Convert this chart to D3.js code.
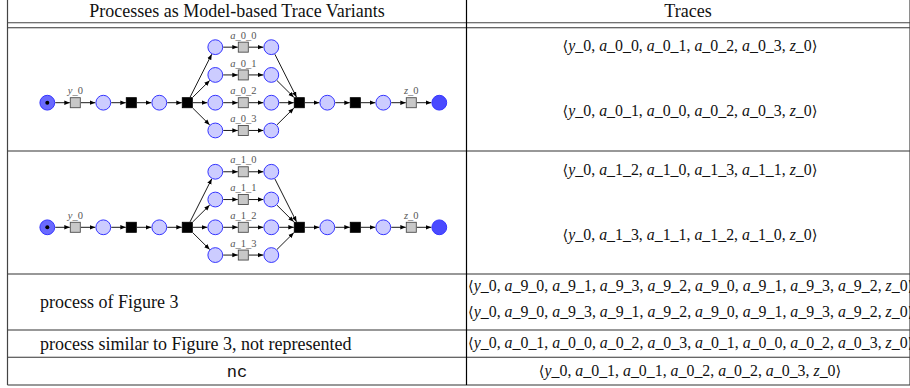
<!DOCTYPE html>
<html><head><meta charset="utf-8">
<script src="https://cdn.jsdelivr.net/npm/d3@7"></script>
<style>body{margin:0;background:#fff}svg{display:block}</style>
</head><body><svg id="c" width="910" height="388"></svg>
<script>
// ---------- data ----------
const headers = ["Processes as Model-based Trace Variants", "Traces"];
const rowKinds = ["net", "net", "text", "text", "code"];
const rowLabels = [null, null, "process of Figure 3", "process similar to Figure 3, not represented", "nc"];
const branchLabels = [["a_0_0", "a_0_1", "a_0_2", "a_0_3"], ["a_1_0", "a_1_1", "a_1_2", "a_1_3"]];
const startLabel = "y_0", endLabel = "z_0";
const traces = [
  [["y_0","a_0_0","a_0_1","a_0_2","a_0_3","z_0"], ["y_0","a_0_1","a_0_0","a_0_2","a_0_3","z_0"]],
  [["y_0","a_1_2","a_1_0","a_1_3","a_1_1","z_0"], ["y_0","a_1_3","a_1_1","a_1_2","a_1_0","z_0"]],
  [["y_0","a_9_0","a_9_1","a_9_3","a_9_2","a_9_0","a_9_1","a_9_3","a_9_2","z_0"],
   ["y_0","a_9_0","a_9_3","a_9_1","a_9_2","a_9_0","a_9_1","a_9_3","a_9_2","z_0"]],
  [["y_0","a_0_1","a_0_0","a_0_2","a_0_3","a_0_1","a_0_0","a_0_2","a_0_3","z_0"]],
  [["y_0","a_0_1","a_0_1","a_0_2","a_0_2","a_0_3","z_0"]]
];
const traceAlign = ["middle", "middle", "start", "start", "middle"];

// ---------- layout ----------
const SERIF = '"Liberation Serif", "Times New Roman", serif';
const MONO = '"Liberation Mono", "DejaVu Sans Mono", monospace';
const ANG = '"DejaVu Serif", "DejaVu Sans", serif';
const svg = d3.select("#c");
const xL = 7.5, xMid = 466.5, xR = 910;
const rowY = d3.scaleOrdinal().domain(d3.range(6)).range([27.7, 151, 274, 330, 357.3, 385]);
const traceY = [[45, 110], [169, 234], [285.5, 311.5], [342.5], [370.5]];
const clamp = (v, a, b) => Math.max(a, Math.min(b, v));

// math token rendering
function mathTokens(sel, tok) {
  sel.append("tspan").style("font-style", "italic").text(tok[0]);
  sel.append("tspan").text(tok.slice(1));
}
function traceText(g, x, y, anchor, toks, fs) {
  const t = g.append("text").style("font-family", SERIF).attr("x", x).attr("y", y).attr("dy", "0.35em").attr("text-anchor", anchor)
    .attr("font-size", fs).attr("fill", "#111");
  t.append("tspan").style("font-family", ANG).attr("font-size", fs * 0.92).text("\u27E8");
  toks.forEach((tk, i) => {
    mathTokens(t, tk);
    if (i < toks.length - 1) t.append("tspan").text(", ");
  });
  t.append("tspan").style("font-family", ANG).attr("font-size", fs * 0.92).text("\u27E9");
  return t;
}

// fit font sizes to reference text widths
function fit(make, target, lo, hi) {
  const n = make(15);
  const w = n.node().getComputedTextLength();
  n.remove();
  return clamp(15 * target / w, lo, hi);
}
const FS_HEAD = fit(s => svg.append("text").style("font-family", SERIF).attr("font-size", s).text(headers[0]), 308, 13, 18);
const FS_BODY = fit(s => svg.append("text").style("font-family", SERIF).attr("font-size", s).text(rowLabels[3]), 327, 13, 18);
const FS_TRACE = fit(s => traceText(svg, 0, -50, "start", traces[0][0], s), 255, 12, 17);

const defs = svg.append("defs");
defs.append("marker").attr("id", "arr").attr("markerUnits", "userSpaceOnUse")
  .attr("viewBox", "0 -3 6 6").attr("refX", 5.5).attr("refY", 0)
  .attr("markerWidth", 6).attr("markerHeight", 6).attr("orient", "auto")
  .append("path").attr("d", "M0,-2.2L5.5,0L0,2.2Z").attr("fill", "#000");

// ---------- table rules ----------
const rules = svg.append("g");
const hl = (y, c, w) => rules.append("line").attr("x1", xL).attr("x2", xR).attr("y1", y).attr("y2", y)
  .attr("stroke", c).attr("stroke-width", w);
hl(-0.5, "#333", 1.2);
hl(22.7, "#444", 1.1);
d3.range(6).forEach(i => hl(rowY(i), "#333", 1.1));
[xL, xMid, xR].forEach(x => rules.append("line").attr("x1", x).attr("x2", x).attr("y1", -1).attr("y2", rowY(5))
  .attr("stroke", x === xMid ? "#000" : "#444").attr("stroke-width", 1.2));

// headers
svg.append("text").style("font-family", SERIF).attr("x", (xL + xMid) / 2).attr("y", 10.5).attr("dy", "0.35em").attr("text-anchor", "middle")
  .attr("font-size", FS_HEAD).attr("fill", "#111").text(headers[0]);
svg.append("text").style("font-family", SERIF).attr("x", 688).attr("y", 10.5).attr("dy", "0.35em").attr("text-anchor", "middle")
  .attr("font-size", FS_HEAD).attr("fill", "#111").text(headers[1]);

// traces
const tg = svg.append("g");
traces.forEach((lines, r) => {
  lines.forEach((toks, j) => {
    const anchor = traceAlign[r];
    const x = anchor === "middle" ? 690 : xMid + 1.5;
    traceText(tg, x, traceY[r][j], anchor, toks, FS_TRACE);
  });
});

// left text rows
rowLabels.forEach((lab, r) => {
  if (!lab) return;
  const cy = (rowY(r) + rowY(r + 1)) / 2;
  if (rowKinds[r] === "code") {
    svg.append("text").style("font-family", MONO).attr("x", (xL + xMid) / 2).attr("y", cy).attr("dy", "0.35em").attr("text-anchor", "middle")
      .attr("font-size", FS_BODY * 0.95).attr("fill", "#111").text(lab);
  } else {
    svg.append("text").style("font-family", SERIF).attr("x", 40).attr("y", cy).attr("dy", "0.35em")
      .attr("font-size", FS_BODY).attr("fill", "#111").text(lab);
  }
});

// ---------- Petri nets ----------
const xStep = d3.scaleLinear().domain([0, 14]).range([47.3, 439.3]);
const yBranch = d3.scaleLinear().domain([0, 3]).range([-55.8, 27.5]);
const R = 7.4, H = 5;

function drawNet(mainY, labels) {
  const g = svg.append("g");
  const nodes = {};
  const add = (id, type, step, dy, extra) => nodes[id] = Object.assign({ id, type, x: xStep(step), y: mainY + dy }, extra || {});
  add("start", "start", 0, 0);
  add("ty", "gt", 1, 0, { label: startLabel });
  add("p1", "p", 2, 0);
  add("t1", "bt", 3, 0);
  add("p2", "p", 4, 0);
  add("split", "bt", 5, 0);
  labels.forEach((lab, i) => {
    const dy = yBranch(i) - yBranch(2);
    add("bp" + i, "p", 6, dy);
    add("bt" + i, "gt", 7, dy, { label: lab });
    add("bq" + i, "p", 8, dy);
  });
  add("join", "bt", 9, 0);
  add("p3", "p", 10, 0);
  add("t2", "bt", 11, 0);
  add("p4", "p", 12, 0);
  add("tz", "gt", 13, 0, { label: endLabel });
  add("end", "end", 14, 0);

  const edges = [["start","ty"],["ty","p1"],["p1","t1"],["t1","p2"],["p2","split"]];
  labels.forEach((_, i) => edges.push(["split","bp"+i],["bp"+i,"bt"+i],["bt"+i,"bq"+i],["bq"+i,"join"]));
  edges.push(["join","p3"],["p3","t2"],["t2","p4"],["p4","tz"],["tz","end"]);

  const isPlace = n => n.type === "p" || n.type === "start" || n.type === "end";
  const bound = (n, ux, uy) => isPlace(n) ? R + 0.5 : (H + 0.5) / Math.max(Math.abs(ux), Math.abs(uy));

  edges.forEach(([a, b]) => {
    const s = nodes[a], t = nodes[b];
    const dx = t.x - s.x, dy = t.y - s.y, L = Math.hypot(dx, dy), ux = dx / L, uy = dy / L;
    const d0 = bound(s, ux, uy), d1 = bound(t, ux, uy);
    g.append("line").attr("x1", s.x + ux * d0).attr("y1", s.y + uy * d0)
      .attr("x2", t.x - ux * d1).attr("y2", t.y - uy * d1)
      .attr("stroke", "#000").attr("stroke-width", 0.9).attr("marker-end", "url(#arr)");
  });

  Object.values(nodes).forEach(n => {
    if (isPlace(n)) {
      const fill = n.type === "start" ? "#6a6aff" : n.type === "end" ? "#4a4aff" : "#ccccff";
      g.append("circle").attr("cx", n.x).attr("cy", n.y).attr("r", R)
        .attr("fill", fill).attr("stroke", "#3535ff").attr("stroke-width", 1);
      if (n.type === "start") g.append("circle").attr("cx", n.x).attr("cy", n.y).attr("r", 2).attr("fill", "#000");
    } else {
      g.append("rect").attr("x", n.x - H).attr("y", n.y - H).attr("width", 2 * H).attr("height", 2 * H)
        .attr("fill", n.type === "bt" ? "#000" : "#c8c8c8").attr("stroke", n.type === "bt" ? "#000" : "#4d4d4d").attr("stroke-width", 0.9);
      if (n.label) {
        const t = g.append("text").style("font-family", SERIF).attr("x", n.x).attr("y", n.y - 12).attr("dy", "0.35em").attr("text-anchor", "middle")
          .attr("font-size", 10.5).attr("fill", "#555");
        mathTokens(t, n.label);
      }
    }
  });
}
drawNet(102.7, branchLabels[0]);
drawNet(227.3, branchLabels[1]);
</script></body></html>
